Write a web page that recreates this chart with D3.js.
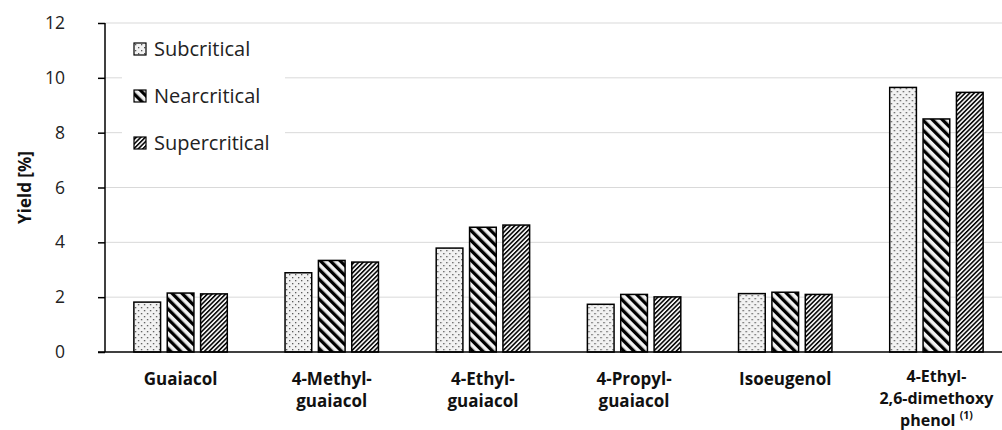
<!DOCTYPE html>
<html>
<head>
<meta charset="utf-8">
<script src="https://cdn.jsdelivr.net/npm/d3@7"></script>
<style>
  html, body { margin: 0; padding: 0; background: #fff; }
  svg { display: block; font-family: "Open Sans", "Noto Sans", sans-serif; }
</style>
</head>
<body>
<svg id="chart" width="1002" height="430"></svg>
<script>
const categories = ["Guaiacol", "4-Methyl-guaiacol", "4-Ethyl-guaiacol", "4-Propyl-guaiacol", "Isoeugenol", "4-Ethyl-2,6-dimethoxy phenol"];
const categoryLines = [["Guaiacol"], ["4-Methyl-", "guaiacol"], ["4-Ethyl-", "guaiacol"], ["4-Propyl-", "guaiacol"], ["Isoeugenol"], ["4-Ethyl-", "2,6-dimethoxy", "phenol"]];
const seriesNames = ["Subcritical", "Nearcritical", "Supercritical"];
const subcritical = [1.82, 2.89, 3.79, 1.74, 2.13, 9.65];
const nearcritical = [2.15, 3.34, 4.55, 2.10, 2.18, 8.50];
const supercritical = [2.12, 3.28, 4.63, 2.01, 2.10, 9.47];
const yTicks = [0, 2, 4, 6, 8, 10, 12];
const seriesValues = [subcritical, nearcritical, supercritical];

const svg = d3.select("#chart");
const mLeft = 105, mRight = 1012, mTop = 23, mBottom = 352;

const x = d3.scaleBand().domain(categories).range([mLeft, mRight]).paddingInner(0.382).paddingOuter(0.191);
const xs = d3.scaleBand().domain(seriesNames).range([0, x.bandwidth()]).paddingInner(0.2).paddingOuter(0);
const y = d3.scaleLinear().domain([0, 12]).range([mBottom, mTop]);

// patterns
const defs = svg.append("defs");
const pDot = defs.append("pattern").attr("id", "p0").attr("patternUnits", "userSpaceOnUse")
  .attr("width", 6).attr("height", 6);
pDot.append("rect").attr("width", 6).attr("height", 6).attr("fill", "#f2f2f2");
pDot.append("rect").attr("x", 1).attr("y", 1).attr("width", 1.3).attr("height", 1.3).attr("fill", "#555");
pDot.append("rect").attr("x", 4).attr("y", 4).attr("width", 1.3).attr("height", 1.3).attr("fill", "#555");

const pNear = defs.append("pattern").attr("id", "p1").attr("patternUnits", "userSpaceOnUse")
  .attr("width", 7).attr("height", 7).attr("patternTransform", "rotate(-45)");
pNear.append("rect").attr("width", 7).attr("height", 7).attr("fill", "#f2f2f2");
pNear.append("rect").attr("x", 0).attr("y", 0).attr("width", 3.3).attr("height", 7).attr("fill", "#000");

const pSup = defs.append("pattern").attr("id", "p2").attr("patternUnits", "userSpaceOnUse")
  .attr("width", 3.2).attr("height", 3.2).attr("patternTransform", "rotate(45)");
pSup.append("rect").attr("width", 3.2).attr("height", 3.2).attr("fill", "#f2f2f2");
pSup.append("rect").attr("x", 0).attr("y", 0).attr("width", 1.5).attr("height", 3.2).attr("fill", "#000");

// gridlines
svg.append("g").selectAll("line").data(yTicks.filter(d => d > 0)).join("line")
  .attr("x1", mLeft).attr("x2", 1002)
  .attr("y1", d => y(d)).attr("y2", d => y(d))
  .attr("stroke", "#d9d9d9").attr("stroke-width", 1);

// legend background
svg.append("rect").attr("x", 122).attr("y", 30).attr("width", 163).attr("height", 135).attr("fill", "#fff");

// bars
const groups = svg.append("g").selectAll("g").data(categories).join("g")
  .attr("transform", d => `translate(${x(d)},0)`);
groups.selectAll("rect").data((d, i) => seriesNames.map((s, j) => ({s, j, v: seriesValues[j][i]}))).join("rect")
  .attr("x", d => xs(d.s))
  .attr("width", xs.bandwidth())
  .attr("y", d => y(d.v))
  .attr("height", d => y(0) - y(d.v))
  .attr("fill", d => `url(#p${d.j})`)
  .attr("stroke", "#000").attr("stroke-width", 1.5);

// y axis
const yAxis = d3.axisLeft(y).tickValues(yTicks).tickSize(7).tickPadding(33).tickFormat(d3.format("d"));
const gy = svg.append("g").attr("transform", `translate(${mLeft},0)`).call(yAxis);
gy.select(".domain").attr("stroke", "#000").attr("stroke-width", 1.5).attr("d", `M0,${mTop}V${mBottom}`);
gy.selectAll(".tick line").attr("stroke", "#000").attr("stroke-width", 1.5);
gy.selectAll(".tick text").attr("font-size", 17.5).attr("fill", "#222").attr("font-family", "Open Sans, sans-serif");

// x axis line
svg.append("line").attr("x1", 98).attr("x2", 1002).attr("y1", mBottom).attr("y2", mBottom)
  .attr("stroke", "#000").attr("stroke-width", 1.5);

// x labels
const xl = svg.append("g").selectAll("text").data(categories).join("text")
  .attr("x", d => x(d) + x.bandwidth() / 2)
  .attr("text-anchor", "middle")
  .attr("font-size", (d, i) => categoryLines[i].length === 3 ? 16 : 17)
  .attr("font-weight", "bold").attr("fill", "#111");
xl.each(function(d, i) {
  const lines = categoryLines[i];
  const t = d3.select(this);
  const step = lines.length === 3 ? 22 : 22;
  const y0 = lines.length === 3 ? 382 : 385;
  lines.forEach((ln, k) => {
    t.append("tspan").attr("x", x(d) + x.bandwidth() / 2)
      .attr("y", y0 + k * step).text(ln);
    if (i === 5 && k === 2) {
      t.append("tspan").text(" ");
      t.append("tspan").attr("font-size", 10.5).attr("dy", -7).text("(1)");
    }
  });
});

// y title
svg.append("text").attr("transform", `translate(31,${(mTop + mBottom) / 2}) rotate(-90)`)
  .attr("text-anchor", "middle").attr("font-size", 17).attr("font-weight", "bold").attr("fill", "#111")
  .text("Yield [%]");

// legend
const lg = svg.append("g").selectAll("g").data(seriesNames).join("g")
  .attr("transform", (d, i) => `translate(134,${49 + i * 47})`);
lg.append("rect").attr("x", 0).attr("y", -6).attr("width", 12).attr("height", 12)
  .attr("fill", (d, i) => `url(#p${i})`).attr("stroke", "#000").attr("stroke-width", 1.2);
lg.append("text").attr("x", 20).attr("y", 0).attr("dy", "0.35em")
  .attr("font-size", 20).attr("fill", "#222").text(d => d);
</script>
</body>
</html>
